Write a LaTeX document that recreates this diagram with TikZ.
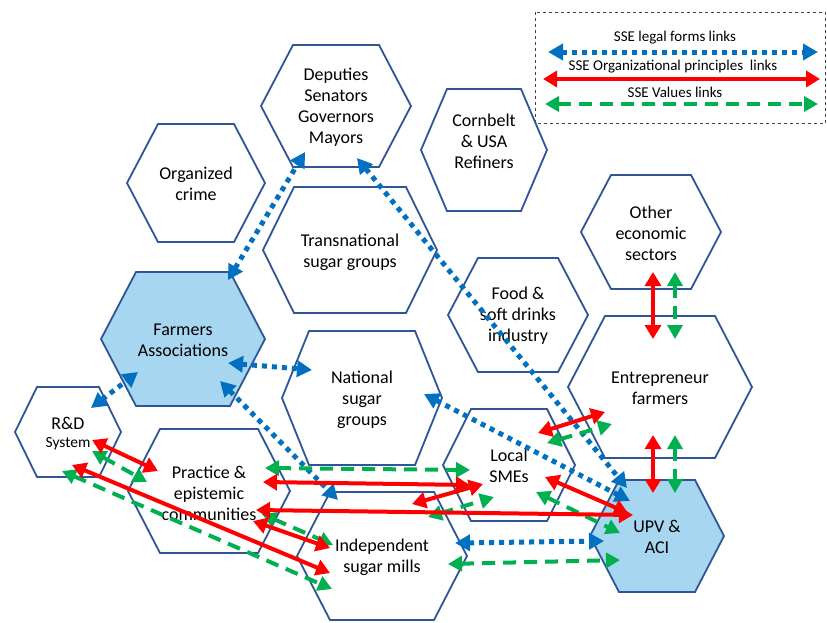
\documentclass[tikz,border=0pt]{standalone}
\usepackage{fontspec}
\setmainfont{Carlito}
\usetikzlibrary{arrows.meta}
\definecolor{hexline}{RGB}{47,85,151}
\definecolor{hexfill}{RGB}{166,214,240}
\definecolor{legalblue}{RGB}{0,112,192}
\definecolor{orgred}{RGB}{255,0,0}
\definecolor{valgreen}{RGB}{0,176,80}
\newcommand\hexagonat[6]{\draw[hexstyle,#6] ({#1-#3},#2) -- ({#1-#4},{#2-#5}) -- ({#1+#4},{#2-#5}) -- ({#1+#3},#2) -- ({#1+#4},{#2+#5}) -- ({#1-#4},{#2+#5}) -- cycle;}
\tikzset{
  hexstyle/.style={draw=hexline, line width=1.8pt, line join=miter},
  filledhex/.style={fill=hexfill},
  txt/.style={align=center, inner sep=0pt, font=\fontsize{18}{21}\selectfont, text=black},
  legtxt/.style={inner sep=0pt, font=\fontsize{15}{17}\selectfont, text=black},
  legal/.style={draw=legalblue, line width=5pt, dash pattern=on 5pt off 5pt,
    {Triangle[length=15pt,width=16pt]}-{Triangle[length=15pt,width=16pt]}},
  orgp/.style={draw=orgred, line width=4pt,
    {Triangle[length=14pt,width=16pt]}-{Triangle[length=14pt,width=16pt]}},
  vals/.style={draw=valgreen, line width=4pt, dash pattern=on 13pt off 8pt,
    {Triangle[length=14pt,width=15pt]}-{Triangle[length=14pt,width=15pt]}},
}
\begin{document}
\begin{tikzpicture}[x=1pt,y=-1pt]
\useasboundingbox (0,0) rectangle (827,622);
% legend
\draw[dashed, line width=1pt, draw=black!75] (535,12) rectangle (825.5,123);
\node[legtxt] (lt1) at (675,38) {SSE legal forms links};
\node[legtxt] (lt2) at (673,67) {SSE Organizational principles\ \ links};
\node[legtxt] (lt3) at (675,92) {SSE Values links};
\coordinate (lga) at (548,52); \coordinate (lgb) at (818,52);
\coordinate (loa) at (543,79); \coordinate (lob) at (820,79);
\coordinate (lva) at (545,104); \coordinate (lvb) at (818,104);
\draw[legal] (lga) -- (lgb);
\draw[orgp] (loa) -- (lob);
\draw[vals] (lva) -- (lvb);
% hexagons
\hexagonat{336}{106}{75}{43}{61}{}
\hexagonat{196}{183}{69}{38}{59}{}
\hexagonat{484}{150}{63}{37}{61}{}
\hexagonat{350}{250}{87}{56}{63}{}
\hexagonat{518}{315}{70}{40}{57}{}
\hexagonat{651}{232}{70}{40}{57}{}
\hexagonat{660}{387}{92}{55}{71}{}
\hexagonat{657}{536}{67}{38}{56}{filledhex}
\hexagonat{183}{339}{82}{47}{67}{filledhex}
\hexagonat{68}{432}{53}{31}{45}{}
\hexagonat{209}{491}{81}{49}{62}{}
\hexagonat{362}{398}{80}{53}{67}{}
\hexagonat{509}{465}{66}{38}{56}{}
\hexagonat{382}{556}{85}{52}{64}{}
% labels
\node[txt] (dep) at (336,107) {Deputies\\Senators\\Governors\\Mayors};
\node[txt] (org) at (196,184) {Organized\\crime};
\node[txt] (corn) at (484,141) {Cornbelt\\\&\ USA\\Refiners};
\node[txt] (trans) at (350,252) {Transnational\\sugar groups};
\node[txt] (food) at (518,316) {Food \&\\soft drinks\\industry};
\node[txt] (other) at (651,233) {Other\\economic\\sectors};
\node[txt] (entr) at (660,388) {Entrepreneur\\farmers};
\node[txt] (upv) at (657,537) {UPV \&\\ACI};
\node[txt] (fa) at (183,340) {Farmers\\Associations};
\node[txt] (rd) at (68,434) {R\&D\\[-3pt]{\fontsize{15.5}{17}\selectfont System}};
\node[txt] (prac) at (209,493) {Practice \&\\epistemic\\communities};
\node[txt] (nat) at (362,400) {National\\sugar\\groups};
\node[txt] (sme) at (509,466) {Local\\SMEs};
\node[txt] (ind) at (382,557) {Independent\\sugar mills};
% connector end points
\coordinate (l1a) at (228,280); \coordinate (l1b) at (305,152);
\coordinate (l2a) at (357,158); \coordinate (l2b) at (627,488);
\coordinate (l3a) at (424,394); \coordinate (l3b) at (630,501);
\coordinate (l4a) at (228,363); \coordinate (l4b) at (312,370);
\coordinate (l5a) at (220,381); \coordinate (l5b) at (338,500);
\coordinate (l6a) at (91,408); \coordinate (l6b) at (138,372);
\coordinate (l7a) at (455,543); \coordinate (l7b) at (604,541);
\coordinate (r1a) at (92,440); \coordinate (r1b) at (158,471);
\coordinate (r2a) at (72,465); \coordinate (r2b) at (330,573);
\coordinate (r3a) at (263,482); \coordinate (r3b) at (470,485);
\coordinate (r4a) at (412,504); \coordinate (r4b) at (483,484);
\coordinate (r5a) at (256,510); \coordinate (r5b) at (633,515);
\coordinate (r6a) at (253,521); \coordinate (r6b) at (330,548);
\coordinate (r7a) at (545,477); \coordinate (r7b) at (628,513);
\coordinate (r8a) at (538,433); \coordinate (r8b) at (605,412);
\coordinate (r9a) at (653,272); \coordinate (r9b) at (653,339);
\coordinate (r10a) at (653,435); \coordinate (r10b) at (653,493);
\coordinate (g1a) at (92,451); \coordinate (g1b) at (147,482);
\coordinate (g2a) at (62,471); \coordinate (g2b) at (332,589);
\coordinate (g3a) at (265,468); \coordinate (g3b) at (470,470);
\coordinate (g4a) at (428,517); \coordinate (g4b) at (494,497);
\coordinate (g5a) at (262,514); \coordinate (g5b) at (333,545);
\coordinate (g6a) at (536,492); \coordinate (g6b) at (620,533);
\coordinate (g7a) at (547,443); \coordinate (g7b) at (612,424);
\coordinate (g8a) at (675,272); \coordinate (g8b) at (675,339);
\coordinate (g9a) at (675,435); \coordinate (g9b) at (675,493);
\coordinate (g10a) at (448,564); \coordinate (g10b) at (620,560);
% legal forms links
\draw[legal] (l1a) -- (l1b);
\draw[legal] (l2a) -- (l2b);
\draw[legal] (l3a) -- (l3b);
\draw[legal] (l4a) -- (l4b);
\draw[legal] (l5a) -- (l5b);
\draw[legal] (l6a) -- (l6b);
\draw[legal] (l7a) -- (l7b);
% values links
\draw[vals] (g1a) -- (g1b);
\draw[vals] (g2a) -- (g2b);
\draw[vals] (g3a) -- (g3b);
\draw[vals] (g4a) -- (g4b);
\draw[vals] (g5a) -- (g5b);
\draw[vals] (g6a) -- (g6b);
\draw[vals] (g7a) -- (g7b);
\draw[vals] (g8a) -- (g8b);
\draw[vals] (g9a) -- (g9b);
\draw[vals] (g10a) -- (g10b);
% organizational principles links
\draw[orgp] (r1a) -- (r1b);
\draw[orgp] (r2a) -- (r2b);
\draw[orgp] (r3a) -- (r3b);
\draw[orgp] (r4a) -- (r4b);
\draw[orgp] (r5a) -- (r5b);
\draw[orgp] (r6a) -- (r6b);
\draw[orgp] (r7a) -- (r7b);
\draw[orgp] (r8a) -- (r8b);
\draw[orgp] (r9a) -- (r9b);
\draw[orgp] (r10a) -- (r10b);
\end{tikzpicture}
\end{document}
